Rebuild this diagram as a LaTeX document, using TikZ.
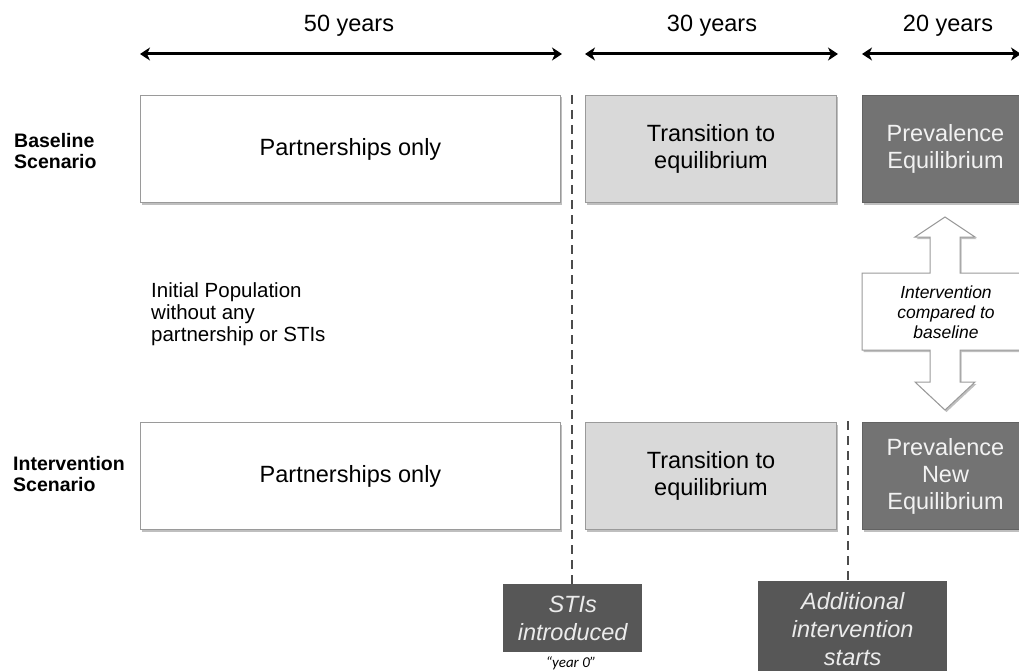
\documentclass[tikz,border=0pt]{standalone}
\usepackage{fontspec}
\setmainfont{Liberation Sans}
\newfontfamily\calfont{Carlito}
\usetikzlibrary{arrows.meta,shadows}
\definecolor{bordergray}{HTML}{9A9A9A}
\definecolor{lightfill}{HTML}{D9D9D9}
\definecolor{midfill}{HTML}{737373}
\definecolor{darkfill}{HTML}{575757}
\tikzset{
  softshadow/.style={drop shadow={shadow xshift=1.5pt, shadow yshift=-2pt, opacity=0.25, fill=black}},
  box/.style={draw=bordergray, line width=1pt, minimum height=107pt, align=center, font=\fontsize{23.5}{27}\selectfont, anchor=north west, inner sep=0pt, softshadow},
  whitebox/.style={box, fill=white},
  lightbox/.style={box, fill=lightfill},
  darkbox/.style={box, fill=midfill, draw=midfill!85!black, text=white!95!black},
  span/.style={{Stealth[length=10pt,width=13pt,inset=3pt]}-{Stealth[length=10pt,width=13pt,inset=3pt]}, line width=3pt},
  spanlabel/.style={font=\fontsize{23.5}{27}\selectfont},
  rowlabel/.style={font=\bfseries\fontsize{19.5}{21.5}\selectfont, align=left, anchor=west, inner sep=0pt},
  divider/.style={line width=2.2pt, draw=black!70, dash pattern=on 9pt off 6pt},
  eventbox/.style={fill=darkfill, text=white!92!black, font=\itshape\fontsize{23.5}{28}\selectfont, align=center, inner sep=0pt, anchor=north west},
}
\begin{document}
\begin{tikzpicture}[x=1pt,y=-1pt]
\clip (0,0) rectangle (1019,671);
\fill[white] (0,0) rectangle (1019,671);
% top spans
\node[spanlabel] (l50) at (349,26) {50 years};
\node[spanlabel] (l30) at (712,26) {30 years};
\node[spanlabel] (l20) at (948,26) {20 years};
\coordinate (a1l) at (140,54); \coordinate (a1r) at (562,54);
\coordinate (a2l) at (585,54); \coordinate (a2r) at (838,54);
\coordinate (a3l) at (862,54); \coordinate (a3r) at (1021,54);
\draw[span] (a1l) -- (a1r);
\draw[span] (a2l) -- (a2r);
\draw[span] (a3l) -- (a3r);
% row labels
\node[rowlabel] (bl) at (14,151) {Baseline\\Scenario};
\node[rowlabel] (il) at (13,474) {Intervention\\Scenario};
\node[font=\fontsize{20.5}{22}\selectfont, align=left, anchor=north west, inner sep=0pt] (init) at (151,282) {Initial Population\\without any\\partnership or STIs};
% baseline row
\node[whitebox, minimum width=420pt] (b1) at (140,95) {Partnerships only};
\node[lightbox, minimum width=251pt] (b2) at (585,95) {Transition to\\equilibrium};
\node[darkbox, minimum width=166pt] (b3) at (862,95) {Prevalence\\Equilibrium};
% intervention row
\node[whitebox, minimum width=420pt] (i1) at (140,422) {Partnerships only};
\node[lightbox, minimum width=251pt] (i2) at (585,422) {Transition to\\equilibrium};
\node[darkbox, minimum width=166pt] (i3) at (862,422) {Prevalence\\New\\Equilibrium};
% double arrow callout
\draw[draw=bordergray, line width=1pt, fill=white, softshadow]
  (945,217) -- (975,237) -- (960,237) -- (960,273) -- (1035,273) -- (1035,350)
  -- (960,350) -- (960,382) -- (975,382) -- (945,410) -- (915,382) -- (930,382)
  -- (930,350) -- (862,350) -- (862,273) -- (930,273) -- (930,237) -- (915,237) -- cycle;
\node[font=\itshape\fontsize{17.5}{20}\selectfont, align=center] (cmp) at (946,312) {Intervention\\compared to\\baseline};
% event boxes
\node[eventbox, minimum width=139pt, minimum height=68pt] (sti) at (503,584) {STIs\\introduced};
\node[font=\calfont\itshape\fontsize{15}{17}\selectfont] (y0) at (571,663) {“year 0”};
\node[eventbox, minimum width=189pt, minimum height=95pt] (add) at (758,581) {Additional\\intervention\\starts};
% dividers
\coordinate (d1top) at (572,95);
\coordinate (d2top) at (848,421);
\draw[divider] (d1top) -- (sti.north -| d1top);
\draw[divider] (d2top) -- (add.north -| d2top);
\end{tikzpicture}
\end{document}
